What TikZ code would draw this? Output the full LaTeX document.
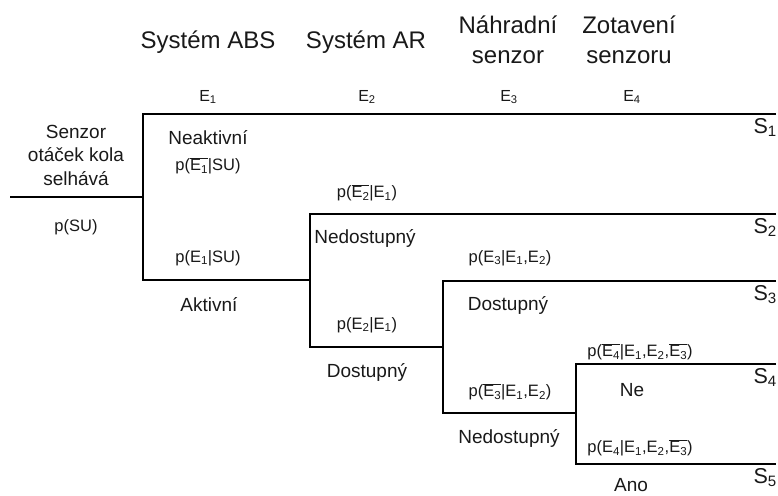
\documentclass[tikz,border=0pt]{standalone}
\usepackage{fontspec}
\setmainfont{Liberation Sans}
\newcommand\ovl[1]{\leavevmode\setbox0=\hbox{#1}\rlap{\rule[\dimexpr\ht0+1.2pt\relax]{\wd0}{0.9pt}}\box0}
\newcommand\sbs[1]{\textsubscript{#1}}
\tikzset{
  branch/.style={line width=1.5pt, draw=black, line join=miter},
  hdr/.style={font=\fontsize{24}{30}\selectfont, align=center, inner sep=0pt, text=black!90},
  lab/.style={font=\fontsize{19}{24}\selectfont, align=center, inner sep=0pt, text=black!90},
  prob/.style={font=\fontsize{16.5}{20}\selectfont, inner sep=0pt, text=black!90},
  ev/.style={font=\fontsize{16}{18}\selectfont, inner sep=0pt, text=black!90},
  st/.style={font=\fontsize{21.5}{24}\selectfont, inner sep=0pt, text=black!90, anchor=north east},
}
\begin{document}
\begin{tikzpicture}[x=1pt,y=-1pt]
\useasboundingbox (0,0) rectangle (778,495);
% junction coordinates
\coordinate (r0) at (10,197);
\coordinate (j1) at (143,197);
\coordinate (j1t) at (143,114);
\coordinate (j1b) at (143,280);
\coordinate (e1) at (776,114);
\coordinate (j2) at (310,280);
\coordinate (j2t) at (310,214);
\coordinate (j2b) at (310,347);
\coordinate (e2) at (776,214);
\coordinate (j3) at (443,347);
\coordinate (j3t) at (443,281);
\coordinate (j3b) at (443,413);
\coordinate (e3) at (776,281);
\coordinate (j4) at (576,413);
\coordinate (j4t) at (576,364);
\coordinate (j4b) at (576,464);
\coordinate (e4) at (776,364);
\coordinate (e5) at (776,464);
% branches
\draw[branch] (r0) -- (j1);
\draw[branch] (e1) -- (j1t) -- (j1b) -- (j2);
\draw[branch] (e2) -- (j2t) -- (j2b) -- (j3);
\draw[branch] (e3) -- (j3t) -- (j3b) -- (j4);
\draw[branch] (e4) -- (j4t) -- (j4b) -- (e5);
% headers
\node[hdr] (h1) at (208,42) {Systém ABS};
\node[hdr] (h2) at (366,42) {Systém AR};
\node[hdr] (h3) at (508,40) {Náhradní\\senzor};
\node[hdr] (h4) at (629,40) {Zotavení\\senzoru};
\node[ev] (E1) at (208,97) {E\sbs{1}};
\node[ev] (E2) at (367,97) {E\sbs{2}};
\node[ev] (E3) at (509,97) {E\sbs{3}};
\node[ev] (E4) at (632,97) {E\sbs{4}};
% root
\node[lab, font=\fontsize{19}{23.5}\selectfont] (root) at (76,155) {Senzor\\otáček kola\\selhává};
\node[prob] (psu) at (76,227) {p(SU)};
% level 1
\node[lab] (neak) at (208,138) {Neaktivní};
\node[prob] (p1n) at (208,166) {p(\ovl{E\sbs{1}}|SU)};
\node[prob] (p1) at (208,258) {p(E\sbs{1}|SU)};
\node[lab] (akt) at (209,305) {Aktivní};
% level 2
\node[prob] (p2n) at (367,193) {p(\ovl{E\sbs{2}}|E\sbs{1})};
\node[lab] (ned1) at (365,238) {Nedostupný};
\node[prob] (p2) at (367,325) {p(E\sbs{2}|E\sbs{1})};
\node[lab] (dos1) at (367,372) {Dostupný};
% level 3
\node[prob] (p3) at (510,258) {p(E\sbs{3}|E\sbs{1},E\sbs{2})};
\node[lab] (dos2) at (508,305) {Dostupný};
\node[prob] (p3n) at (510,392) {p(\ovl{E\sbs{3}}|E\sbs{1},E\sbs{2})};
\node[lab] (ned2) at (509,438) {Nedostupný};
% level 4
\node[prob] (p4n) at (640,352) {p(\ovl{E\sbs{4}}|E\sbs{1},E\sbs{2},\ovl{E\sbs{3}})};
\node[lab] (ne) at (632,390) {Ne};
\node[prob] (p4) at (640,448) {p(E\sbs{4}|E\sbs{1},E\sbs{2},\ovl{E\sbs{3}})};
\node[lab] (ano) at (631,485) {Ano};
% states
\node[st] (S1) at (777,118) {S\sbs{1}};
\node[st] (S2) at (777,218) {S\sbs{2}};
\node[st] (S3) at (777,285) {S\sbs{3}};
\node[st] (S4) at (777,368) {S\sbs{4}};
\node[st] (S5) at (777,468) {S\sbs{5}};
\end{tikzpicture}
\end{document}
